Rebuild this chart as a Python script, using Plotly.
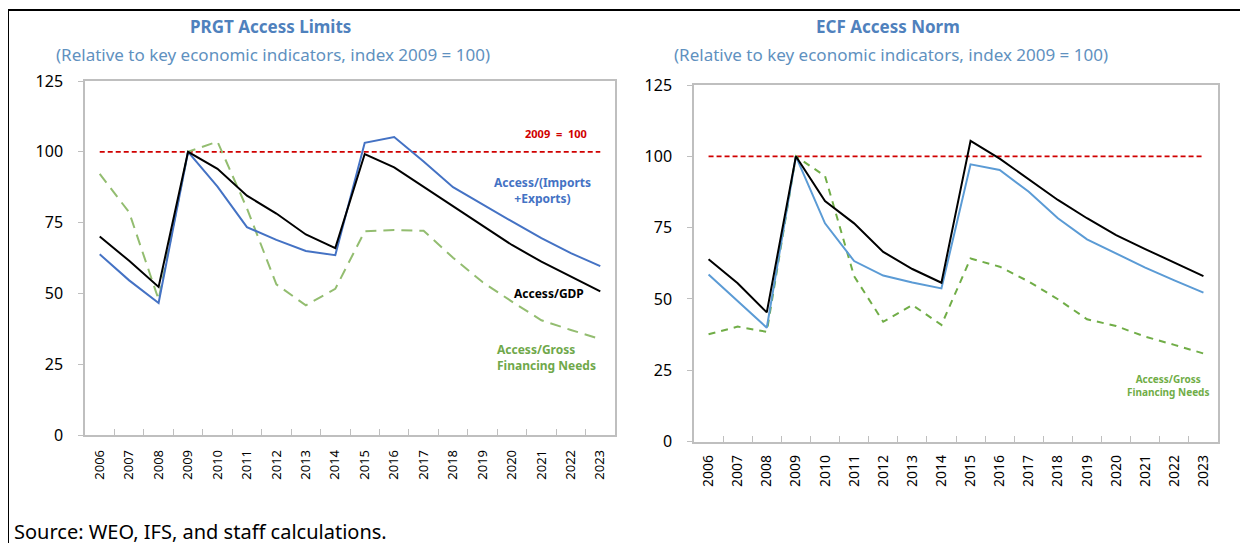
import plotly.graph_objects as go

# ---------------------------------------------
# DATA
# ---------------------------------------------
years = [str(y) for y in range(2006, 2024)]
base_line = [100] * len(years)

# PRGT access limits (index 2009 = 100)
prgt_gdp = [70.1, 61.5, 52.3, 100, 94.0, 84.5, 78.2, 70.8, 66.0, 99.2, 94.5, 87.6, 80.7,
            73.7, 67.1, 61.2, 55.9, 50.7]
prgt_trade = [63.8, 54.6, 46.6, 100, 87.7, 73.4, 68.9, 65.0, 63.5, 103.2, 105.2, 96.6,
              87.5, 81.3, 75.4, 69.5, 64.2, 59.6]
prgt_gfn = [92.2, 78.6, 47.8, 100, 103.6, 80.0, 53.2, 45.8, 51.6, 71.9, 72.4, 72.1,
            62.6, 54.0, 47.1, 40.5, 37.1, 33.9]

# ECF access norm (index 2009 = 100)
ecf_gdp = [63.9, 55.5, 45.3, 100, 84.3, 76.5, 66.5, 60.5, 55.7, 105.4, 99.2, 91.8, 84.7,
           78.3, 72.4, 67.5, 62.7, 58.0]
ecf_trade = [58.6, 49.4, 39.9, 100, 76.5, 63.3, 58.2, 55.8, 53.7, 97.2, 95.2, 87.6, 78.3,
             70.9, 65.9, 61.0, 56.5, 52.2]
ecf_gfn = [37.6, 40.3, 38.5, 100, 93.1, 58.0, 42.0, 47.9, 40.9, 64.2, 61.3, 56.1, 49.9,
           42.9, 40.5, 36.8, 33.9, 30.9]

y_ticks = [0, 25, 50, 75, 100, 125]

W, H = 1248, 543
OFF = 8          # the page body adds an 8px margin, so shift everything back
FONT = "Noto Sans"
RED = "#D00000"


def px(x):
    return (x - OFF) / W


def py(y):
    return 1 - (y - OFF) / H


fig = go.Figure()

# ---------------------------------------------
# LEFT PANEL — PRGT
# ---------------------------------------------
fig.add_trace(go.Scatter(x=years, y=base_line, mode="lines", xaxis="x", yaxis="y",
                         line=dict(color=RED, width=1.8, dash="5px,3px")))
fig.add_trace(go.Scatter(x=years, y=prgt_gfn, mode="lines", xaxis="x", yaxis="y",
                         line=dict(color="#93BD70", width=2, dash="11px,7px")))
fig.add_trace(go.Scatter(x=years, y=prgt_trade, mode="lines", xaxis="x", yaxis="y",
                         line=dict(color="#4472C4", width=2)))
fig.add_trace(go.Scatter(x=years, y=prgt_gdp, mode="lines", xaxis="x", yaxis="y",
                         line=dict(color="black", width=2)))

# ---------------------------------------------
# RIGHT PANEL — ECF
# ---------------------------------------------
fig.add_trace(go.Scatter(x=years, y=base_line, mode="lines", xaxis="x2", yaxis="y2",
                         line=dict(color=RED, width=1.8, dash="5px,3px")))
fig.add_trace(go.Scatter(x=years, y=ecf_gfn, mode="lines", xaxis="x2", yaxis="y2",
                         line=dict(color="#70AD47", width=2, dash="7px,6px")))
fig.add_trace(go.Scatter(x=years, y=ecf_trade, mode="lines", xaxis="x2", yaxis="y2",
                         line=dict(color="#5B9BD5", width=2)))
fig.add_trace(go.Scatter(x=years, y=ecf_gdp, mode="lines", xaxis="x2", yaxis="y2",
                         line=dict(color="black", width=2)))

xaxis_style = dict(type="category", range=[-0.5, 17.5], tickangle=-90,
                   ticks="inside", tickson="boundaries", ticklen=6, tickcolor="#BFBFBF",
                   showline=True, linecolor="#BFBFBF", linewidth=1.5, mirror=True,
                   showgrid=False, zeroline=False, automargin=False,
                   tickfont=dict(family=FONT, size=13, color="black"))
yaxis_style = dict(range=[0, 125], tickvals=y_ticks, ticks="outside", ticklen=5,
                   tickcolor="#BFBFBF", showline=True, linecolor="#BFBFBF", linewidth=1.5,
                   mirror=True, showgrid=False, zeroline=False, automargin=False,
                   tickfont=dict(family=FONT, size=16, color="black"))

fig.update_layout(
    template="none",
    width=W, height=H, autosize=False,
    margin=dict(l=0, r=0, t=0, b=0, pad=0),
    paper_bgcolor="white", plot_bgcolor="white",
    showlegend=False,
    xaxis=dict(domain=[px(85), px(615)], anchor="y", ticklabelstandoff=8, **xaxis_style),
    yaxis=dict(domain=[py(435), py(81)], anchor="x", ticklabelstandoff=12, **yaxis_style),
    xaxis2=dict(domain=[px(694), px(1218)], anchor="y2", ticklabelstandoff=6,
                **{**xaxis_style, "tickfont": dict(family=FONT, size=14, color="black")}),
    yaxis2=dict(domain=[py(441.6), py(85)], anchor="x2", ticklabelstandoff=12, **yaxis_style),
)


def label(x, y, text, size, color, bold=False, xanchor="center", align="center"):
    if bold:
        text = "<b>" + text + "</b>"
    fig.add_annotation(x=px(x), y=py(y), xref="paper", yref="paper", text=text,
                       showarrow=False, xanchor=xanchor, yanchor="middle", align=align,
                       font=dict(family=FONT, size=size, color=color))


# titles
TITLE_BLUE = "#4F81BD"
SUB_BLUE = "#5F91C0"
for cx, title in [(270, "PRGT Access Limits"), (888, "ECF Access Norm")]:
    label(cx, 26, title, 17, TITLE_BLUE, bold=True)
    label(cx + 3, 54, "(Relative to key economic indicators, index 2009 = 100)", 17, SUB_BLUE)

# series labels, left panel
label(556, 134, "2009  =  100", 11, RED, bold=True)
label(542, 190, "Access/(Imports<br>+Exports)", 12, "#4472C4", bold=True)
label(549, 293, "Access/GDP", 12, "black", bold=True)
label(495, 357, "Access/Gross<br>Financing Needs", 12, "#6FA84A", bold=True,
      xanchor="left", align="left")

# series label, right panel
label(1168, 385, "Access/Gross<br>Financing Needs", 10, "#70AD47", bold=True)

# source note
label(12, 531, "Source: WEO, IFS, and staff calculations.", 20, "black", xanchor="left")

# outer frame (left and top edges)
fig.add_shape(type="line", xref="paper", yref="paper", x0=px(8), x1=px(8),
              y0=0, y1=py(10), line=dict(color="black", width=2))
fig.add_shape(type="line", xref="paper", yref="paper", x0=px(8), x1=1,
              y0=py(10), y1=py(10), line=dict(color="black", width=2))

fig.write_html("out.html")
